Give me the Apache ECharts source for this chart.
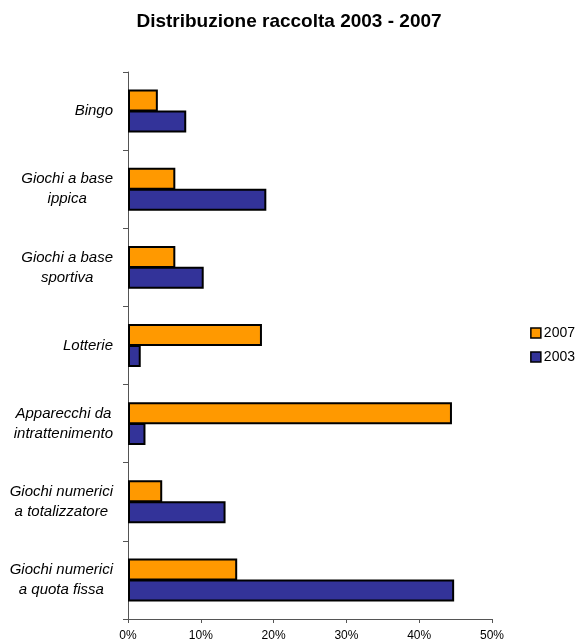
<!DOCTYPE html>
<html><head><meta charset="utf-8">
<script src="https://cdn.jsdelivr.net/npm/echarts@6/dist/echarts.min.js"></script>
<style>html,body{margin:0;padding:0;background:#fff}#c{width:578px;height:642px}</style>
</head><body><div id="c"></div>
<script>
const categories = ["Bingo", "Giochi a base\nippica", "Giochi a base\nsportiva", "Lotterie", "Apparecchi da\nintrattenimento", "Giochi numerici\na totalizzatore", "Giochi numerici\na quota fissa"];
const values2007 = [4.1, 6.5, 6.5, 18.4, 44.5, 4.7, 15.0];
const values2003 = [8.0, 19.0, 10.4, 1.75, 2.4, 13.4, 44.8];
const xTicks = [0, 10, 20, 30, 40, 50];

const chart = echarts.init(document.getElementById('c'));
chart.setOption({
  animation: false,
  backgroundColor: '#fff',
  textStyle: { fontFamily: 'Liberation Sans, Arial, sans-serif' },
  title: {
    text: 'Distribuzione raccolta 2003 - 2007',
    left: 'center', top: 12, padding: 0,
    textStyle: { fontSize: 19, fontWeight: 'bold', color: '#000', fontFamily: 'Liberation Sans, Arial, sans-serif' }
  },
  legend: {
    orient: 'vertical', right: 3, top: 326, padding: 0,
    itemWidth: 10, itemHeight: 10, itemGap: 10,
    icon: 'rect',
    itemStyle: { borderColor: '#000', borderWidth: 1.5 },
    textStyle: { fontSize: 14, color: '#000', padding: [0, 0, 0, -2] },
    data: ['2007', '2003']
  },
  grid: { left: 128, right: 86, top: 72, bottom: 23, containLabel: false },
  xAxis: {
    type: 'value', min: xTicks[0], max: xTicks[xTicks.length - 1], interval: 10,
    axisLine: { show: true, lineStyle: { color: '#555', width: 1 } },
    axisTick: { show: true, length: 4, lineStyle: { color: '#555' } },
    splitLine: { show: false },
    axisLabel: { formatter: '{value}%', fontSize: 12, color: '#000', margin: 11 }
  },
  yAxis: {
    type: 'category', inverse: true, data: categories,
    axisLine: { show: true, lineStyle: { color: '#555', width: 1 } },
    axisTick: { show: true, length: 5, lineStyle: { color: '#555' } },
    axisLabel: {
      margin: 15, color: '#000', fontSize: 15, fontStyle: 'italic', lineHeight: 20,
      formatter: function (v) { return v.split('\n').map(function (s) { return '{a|' + s + '}'; }).join('\n'); },
      rich: { a: { align: 'center', fontSize: 15, fontStyle: 'italic', lineHeight: 20, color: '#000' } }
    }
  },
  series: [
    { name: '2007', type: 'bar', data: values2007, barWidth: 22, barGap: '-5%',
      itemStyle: { color: '#FF9900', borderColor: '#000', borderWidth: 2 } },
    { name: '2003', type: 'bar', data: values2003, barWidth: 22, barGap: '-5%',
      itemStyle: { color: '#333399', borderColor: '#000', borderWidth: 2 } }
  ]
});
</script></body></html>
